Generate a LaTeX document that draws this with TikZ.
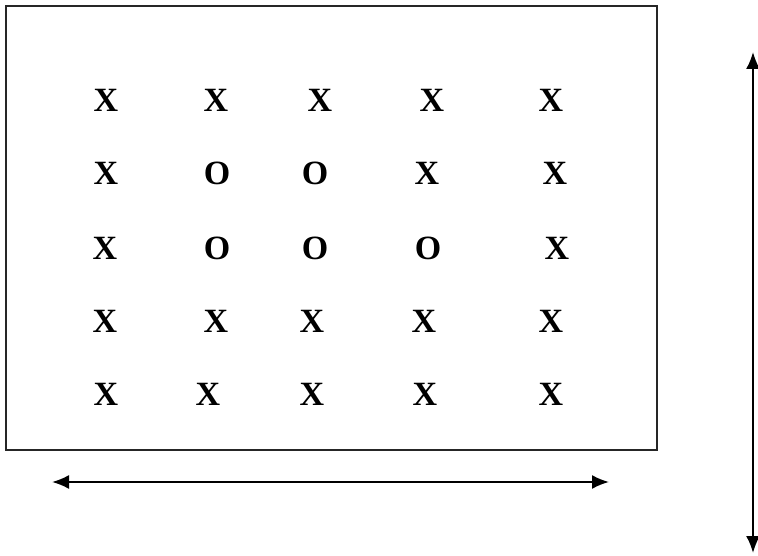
\documentclass[tikz,border=0pt]{standalone}
\usepackage{fontspec}
\setmainfont{Liberation Serif}
\usetikzlibrary{arrows.meta}
\begin{document}
\begin{tikzpicture}[x=1pt,y=-1pt,
  letter/.style={font=\fontsize{34}{34}\selectfont\bfseries, inner sep=0pt, anchor=center},
  frame/.style={draw=black!85, line width=1.8pt},
  dimarrow/.style={line width=2pt, {Latex[length=17pt,width=14pt]}-{Latex[length=17pt,width=14pt]}}]
\useasboundingbox (0,0) rectangle (758,556);
\node[frame, minimum width=651pt, minimum height=444pt, inner sep=0pt] (box) at (331.5,228) {};
% row 1
\node[letter] (a1) at (106,100) {X};
\node[letter] (a2) at (216,100) {X};
\node[letter] (a3) at (320,100) {X};
\node[letter] (a4) at (432,100) {X};
\node[letter] (a5) at (551,100) {X};
% row 2
\node[letter] (b1) at (106,173) {X};
\node[letter] (b2) at (217,173) {O};
\node[letter] (b3) at (315,173) {O};
\node[letter] (b4) at (427,173) {X};
\node[letter] (b5) at (555,173) {X};
% row 3
\node[letter] (c1) at (105,248) {X};
\node[letter] (c2) at (217,248) {O};
\node[letter] (c3) at (315,248) {O};
\node[letter] (c4) at (428,248) {O};
\node[letter] (c5) at (557,248) {X};
% row 4
\node[letter] (d1) at (105,321) {X};
\node[letter] (d2) at (216,321) {X};
\node[letter] (d3) at (312,321) {X};
\node[letter] (d4) at (424,321) {X};
\node[letter] (d5) at (551,321) {X};
% row 5
\node[letter] (e1) at (106,394) {X};
\node[letter] (e2) at (208,394) {X};
\node[letter] (e3) at (312,394) {X};
\node[letter] (e4) at (425,394) {X};
\node[letter] (e5) at (551,394) {X};
% arrows
\coordinate (hl) at (52,482);
\coordinate (hr) at (609,482);
\coordinate (vt) at (753,52);
\coordinate (vb) at (753,553);
\draw[dimarrow] (hl) -- (hr);
\draw[dimarrow] (vt) -- (vb);
\end{tikzpicture}
\end{document}
